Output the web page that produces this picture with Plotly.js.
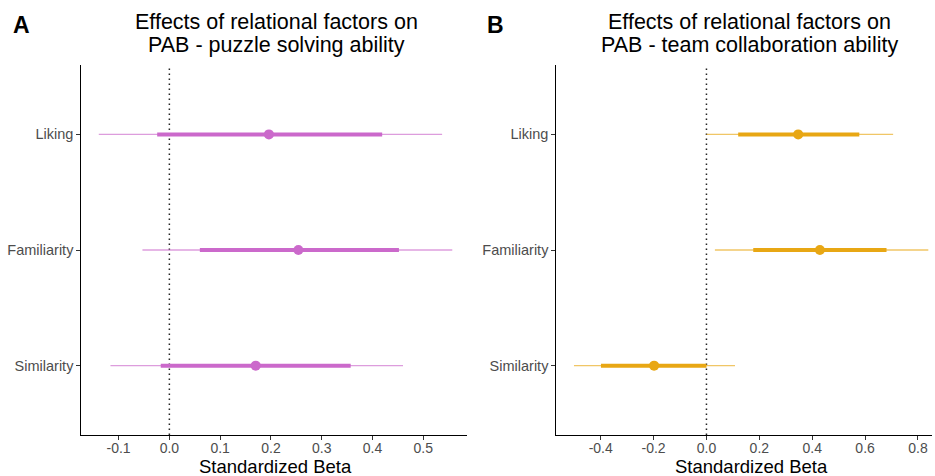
<!DOCTYPE html>
<html><head><meta charset="utf-8">
<script src="https://cdn.plot.ly/plotly-3.0.1.min.js"></script>
<style>body{margin:0;background:#fff}#chart{width:935px;height:476px}</style>
</head><body><div id="chart"></div>
<script>
const factors = ['Liking','Familiarity','Similarity'];
// Panel A: puzzle solving ability
const aEst  = [0.196, 0.254, 0.170];
const aLo66 = [-0.024, 0.060, -0.017];
const aHi66 = [0.419, 0.452, 0.357];
const aLo95 = [-0.139, -0.053, -0.116];
const aHi95 = [0.537, 0.557, 0.460];
// Panel B: team collaboration ability
const bEst  = [0.347, 0.429, -0.198];
const bLo66 = [0.120, 0.177, -0.399];
const bHi66 = [0.578, 0.681, 0.000];
const bLo95 = [0.000, 0.032, -0.501];
const bHi95 = [0.706, 0.839, 0.108];
const titleA = ['Effects of relational factors on','PAB - puzzle solving ability'];
const titleB = ['Effects of relational factors on','PAB - team collaboration ability'];
const xTitle = 'Standardized Beta';

const colA = '#CB69CB', colAl = 'rgba(203,105,203,0.65)';
const colB = '#E8A714', colBl = 'rgba(232,167,20,0.65)';

function segs(lo, hi){
  const x=[], y=[];
  factors.forEach((f,i)=>{ x.push(lo[i],hi[i],null); y.push(f,f,null); });
  return {x,y};
}
function panel(est,lo66,hi66,lo95,hi95,col,coll,xa,ya){
  const s95=segs(lo95,hi95), s66=segs(lo66,hi66);
  return [
    {type:'scatter',mode:'lines',x:s95.x,y:s95.y,xaxis:xa,yaxis:ya,line:{color:coll,width:1.3},hoverinfo:'skip'},
    {type:'scatter',mode:'lines',x:s66.x,y:s66.y,xaxis:xa,yaxis:ya,line:{color:col,width:4},hoverinfo:'skip'},
    {type:'scatter',mode:'markers',x:est,y:factors,xaxis:xa,yaxis:ya,marker:{color:col,size:10}}
  ];
}
const data = [
  ...panel(aEst,aLo66,aHi66,aLo95,aHi95,colA,colAl,'x','y'),
  ...panel(bEst,bLo66,bHi66,bLo95,bHi95,colB,colBl,'x2','y2')
];
const font = {family:'Liberation Sans, Arial, sans-serif'};
const xbase = {showgrid:false,zeroline:false,showline:true,linecolor:'#000',linewidth:1.2,
  ticks:'outside',ticklen:3.5,tickcolor:'#333',tickwidth:1,ticklabelstandoff:-4,
  tickfont:{size:14,color:'#4D4D4D'}};
const ybase = {type:'category',categoryorder:'array',categoryarray:['Similarity','Familiarity','Liking'],
  range:[-0.6,2.6],showgrid:false,zeroline:false,showline:true,linecolor:'#000',linewidth:1.2,
  ticks:'outside',ticklen:3.5,tickcolor:'#333',tickwidth:1,tickfont:{size:14.5,color:'#4D4D4D'}};
function pxy(y){ return 1 - (y-65)/370; }
function ann(text,xpx,ypx,size,extra){
  return Object.assign({text:text,xref:'paper',yref:'paper',x:xpx/935,y:pxy(ypx),xanchor:'center',yanchor:'middle',
    showarrow:false,font:{size:size,color:'#000'}},extra||{});
}
const dotLine = {color:'#222',width:1.5,dash:'1.5px,3.5px'};
const layout = {
  width:935,height:476,paper_bgcolor:'#fff',plot_bgcolor:'#fff',font:font,showlegend:false,
  margin:{l:0,r:0,t:65,b:41},
  xaxis:Object.assign({},xbase,{domain:[81/935,467/935],range:[-0.174,0.586],tickvals:[-0.1,0,0.1,0.2,0.3,0.4,0.5],ticktext:['-0.1','0.0','0.1','0.2','0.3','0.4','0.5']}),
  yaxis:Object.assign({},ybase,{anchor:'x'}),
  xaxis2:Object.assign({},xbase,{domain:[556/935,932/935],range:[-0.569,0.853],anchor:'y2',tickvals:[-0.4,-0.2,0,0.2,0.4,0.6,0.8],ticktext:['-0.4','-0.2','0.0','0.2','0.4','0.6','0.8']}),
  yaxis2:Object.assign({},ybase,{anchor:'x2'}),
  shapes:[
    {type:'line',xref:'x',yref:'paper',x0:0,x1:0,y0:0,y1:1,line:dotLine,layer:'below'},
    {type:'line',xref:'x2',yref:'paper',x0:0,x1:0,y0:0,y1:1,line:dotLine,layer:'below'}
  ],
  annotations:[
    ann(titleA[0],276,22,21.5), ann(titleA[1],276,45,21.5),
    ann(titleB[0],749,22,21.5), ann(titleB[1],749,45,21.5),
    ann(xTitle,275.5,466,18.5), ann(xTitle,751.5,466,18.5),
    ann('<b>A</b>',21,25,23), ann('<b>B</b>',495,25,23)
  ]
};
Plotly.newPlot('chart',data,layout,{displayModeBar:false,staticPlot:true});
</script></body></html>
